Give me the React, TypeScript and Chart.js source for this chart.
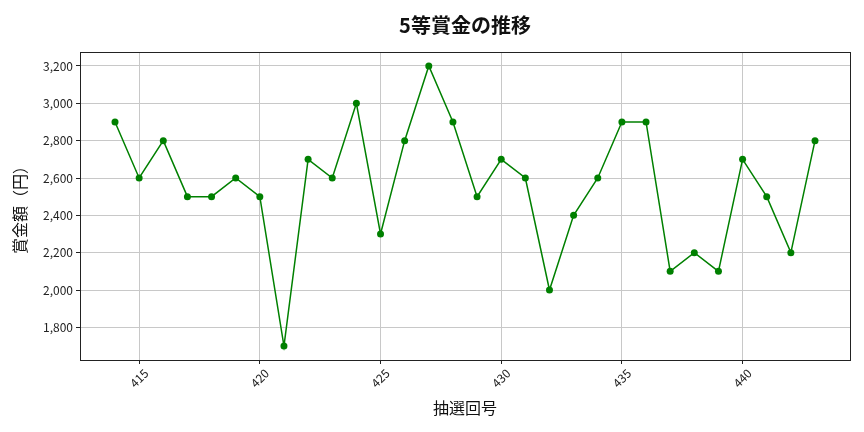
import React, { useEffect, useRef } from 'react';
import { Chart, registerables } from 'chart.js';

Chart.register(...registerables);

// 抽選回号と5等賞金
const drawNumbers = [414, 415, 416, 417, 418, 419, 420, 421, 422, 423, 424, 425, 426, 427, 428, 429, 430, 431, 432, 433, 434, 435, 436, 437, 438, 439, 440, 441, 442, 443];
const prizes = [2900, 2600, 2800, 2500, 2500, 2600, 2500, 1700, 2700, 2600, 3000, 2300, 2800, 3200, 2900, 2500, 2700, 2600, 2000, 2400, 2600, 2900, 2900, 2100, 2200, 2100, 2700, 2500, 2200, 2800];
const xTicks = [415, 420, 425, 430, 435, 440];
const yTicks = [1800, 2000, 2200, 2400, 2600, 2800, 3000, 3200];

const FONT = "'Noto Sans CJK JP', 'Noto Sans', sans-serif";

// 枠線（四辺）
const framePlugin = {
  id: 'frame',
  afterDraw(chart: any) {
    const { ctx, chartArea: a } = chart;
    ctx.save();
    ctx.strokeStyle = '#222';
    ctx.lineWidth = 1;
    ctx.strokeRect(Math.round(a.left) + 0.5, Math.round(a.top) + 0.5, Math.round(a.right - a.left), Math.round(a.bottom - a.top));
    ctx.restore();
  },
};

export default function App() {
  const canvasRef = useRef<HTMLCanvasElement>(null);

  useEffect(() => {
    if (!canvasRef.current) return;
    const chart = new Chart(canvasRef.current, {
      type: 'line',
      data: {
        datasets: [{
          data: drawNumbers.map((x, i) => ({ x, y: prizes[i] })),
          borderColor: '#008000',
          backgroundColor: '#008000',
          borderWidth: 1.5,
          pointRadius: 3.5,
          pointBorderWidth: 0,
          tension: 0,
        }],
      },
      options: {
        animation: false,
        responsive: true,
        maintainAspectRatio: false,
        layout: { padding: { left: 0, right: 14, top: 0, bottom: 0 } },
        plugins: {
          legend: { display: false },
          tooltip: { enabled: false },
          title: {
            display: true,
            fullSize: false,
            text: '5等賞金の推移',
            color: '#111',
            font: { family: FONT, size: 20, weight: 'bold' },
            padding: { top: 13, bottom: 15 },
          },
        },
        scales: {
          x: {
            type: 'linear',
            min: 412.55,
            max: 444.45,
            afterFit: (s: any) => { s.height = 72; },
            afterBuildTicks: (s: any) => { s.ticks = xTicks.map(v => ({ value: v })); },
            grid: { color: '#c8c8c8', tickColor: '#222', tickLength: 4 },
            border: { display: false },
            ticks: {
              color: '#222',
              font: { family: FONT, size: 12 },
              minRotation: 45,
              maxRotation: 45,
              labelOffset: 7,
              padding: 2,
              callback: (v: any) => String(v),
            },
            title: {
              display: true,
              text: '抽選回号',
              color: '#111',
              font: { family: FONT, size: 16 },
              padding: { top: 0, bottom: 14 },
            },
          },
          y: {
            min: 1625,
            max: 3275,
            afterFit: (s: any) => { s.width = 80; },
            afterBuildTicks: (s: any) => { s.ticks = yTicks.map(v => ({ value: v })); },
            grid: { color: '#c8c8c8', tickColor: '#222', tickLength: 4 },
            border: { display: false },
            ticks: {
              color: '#222',
              font: { family: FONT, size: 12 },
              padding: 3,
              callback: (v: any) => Number(v).toLocaleString('en-US'),
            },
            title: {
              display: true,
              text: '賞金額（円）',
              color: '#111',
              font: { family: FONT, size: 16 },
              padding: { top: 10, bottom: 0 },
            },
          },
        },
      },
      plugins: [framePlugin],
    });
    return () => chart.destroy();
  }, []);

  return (
    <div style={{ width: 864, height: 432, position: 'relative', background: '#fff' }}>
      <style>{'body { margin: 0; }'}</style>
      <canvas ref={canvasRef} />
    </div>
  );
}
